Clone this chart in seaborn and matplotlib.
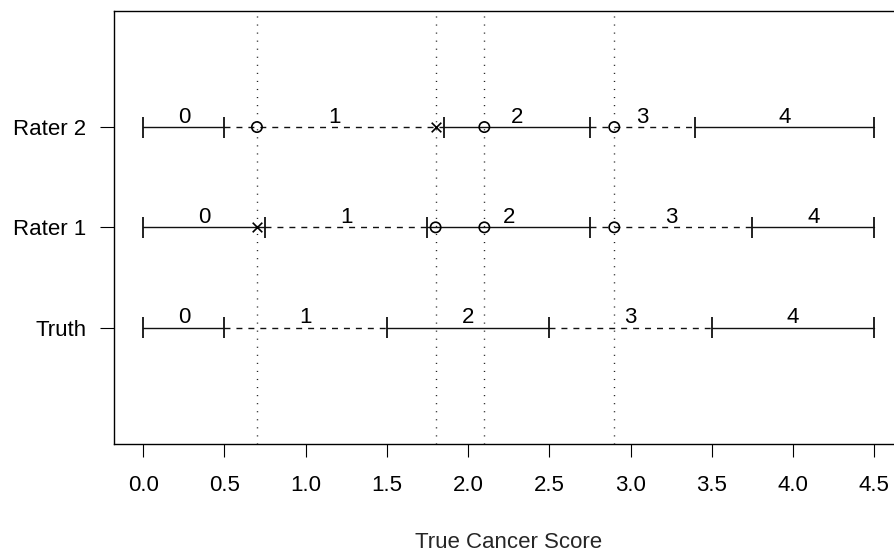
import numpy as np
import pandas as pd
import matplotlib
matplotlib.use("Agg")
import matplotlib.pyplot as plt
import seaborn as sns

# ---- data ----
row_labels = ["Truth", "Rater 1", "Rater 2"]
truth_bounds = [0.0, 0.5, 1.5, 2.5, 3.5, 4.5]
rater1_bounds = [0.0, 0.75, 1.75, 2.75, 3.75, 4.5]
rater2_bounds = [0.0, 0.5, 1.85, 2.75, 3.4, 4.5]
categories = ["0", "1", "2", "3", "4"]
segment_styles = ["solid", "dashed", "solid", "dashed", "solid"]
case_scores = [0.7, 1.8, 2.1, 2.9]
truth_marks = [None, None, None, None]
rater1_marks = ["x", "o", "o", "o"]
rater2_marks = ["o", "x", "o", "o"]
x_ticks = [0.0, 0.5, 1.0, 1.5, 2.0, 2.5, 3.0, 3.5, 4.0, 4.5]

all_bounds = [truth_bounds, rater1_bounds, rater2_bounds]
all_marks = [truth_marks, rater1_marks, rater2_marks]

# ---- style ----
sns.set_style("ticks")
plt.rcParams["font.family"] = ["Liberation Sans", "DejaVu Sans"]
FS = 16

fig = plt.figure(figsize=(8.95, 5.55), dpi=100)
ax = fig.add_axes([114 / 895, 0.2, (903.4 - 114) / 895, 0.7807])

LW = 1.0
dash = (4.3 / LW, 4.3 / LW)
dot = (0.8 / LW, 5.0 / LW)
col = "#111111"

# vertical dotted reference lines
for xv in case_scores:
    ax.axvline(xv, color="#222222", lw=LW, linestyle=(0, dot), zorder=1)

# segments
seg_rows = []
for r, bounds in enumerate(all_bounds, start=1):
    for i, cat in enumerate(categories):
        seg_rows.append(dict(row=r, x0=bounds[i], x1=bounds[i + 1],
                             cat=cat, style=segment_styles[i]))
seg_df = pd.DataFrame(seg_rows)

for _, s in seg_df.iterrows():
    ls = "-" if s["style"] == "solid" else (0, dash)
    ax.plot([s["x0"], s["x1"]], [s["row"], s["row"]], color=col, lw=LW,
            linestyle=ls, zorder=2)
    ax.text((s["x0"] + s["x1"]) / 2, s["row"] + 0.1, s["cat"], ha="center",
            va="center", fontsize=FS, color="black", zorder=3)

for r, bounds in enumerate(all_bounds, start=1):
    ax.vlines(bounds, r - 0.105, r + 0.105, color=col, lw=1.3, zorder=2)

# markers
mk_rows = []
for r, marks in enumerate(all_marks, start=1):
    for xv, m in zip(case_scores, marks):
        if m is not None:
            mk_rows.append(dict(row=r, x=xv, mark=m))
mk_df = pd.DataFrame(mk_rows)

sns.scatterplot(data=mk_df[mk_df["mark"] == "o"], x="x", y="row", marker="o",
                s=55, facecolors="none", edgecolor="black", linewidth=1.2,
                ax=ax, zorder=4, legend=False)
sns.scatterplot(data=mk_df[mk_df["mark"] == "x"], x="x", y="row", marker="x",
                s=48, color="black", linewidth=1.2, ax=ax, zorder=4,
                legend=False)

# axes
ax.set_xlim(-0.18, 4.68)
ax.set_ylim(-0.16, 4.16)
ax.set_xticks(x_ticks)
ax.set_xticklabels([f"{t:.1f}" for t in x_ticks], fontsize=FS)
ax.set_yticks([1, 2, 3])
ax.set_yticklabels(row_labels, fontsize=FS)
ax.tick_params(axis="x", length=9.4, width=0.8, pad=13, colors="black")
ax.tick_params(axis="y", length=10, width=0.8, pad=10, colors="black")
ax.set_xlabel("True Cancer Score", fontsize=FS, labelpad=26)
ax.set_ylabel("")
for sp in ax.spines.values():
    sp.set_visible(True)
    sp.set_linewidth(1.0)
    sp.set_color("black")

fig.savefig("out.png", dpi=100)
